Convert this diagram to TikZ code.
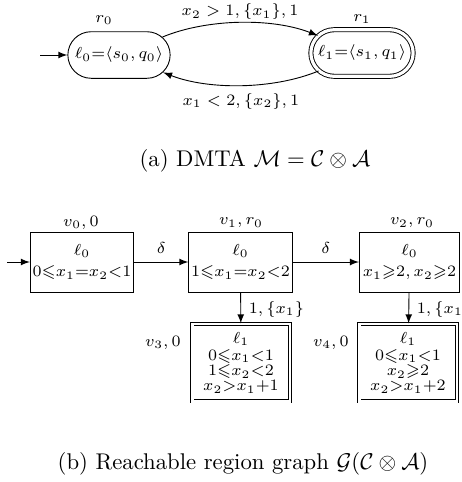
\documentclass[tikz,border=0pt]{standalone}
\usepackage{amsmath,amssymb}
\usepackage{tikz}
\usetikzlibrary{calc,positioning,shapes.misc}

\begin{document}
\begin{tikzpicture}[x=0.44pt, y=-0.44pt, >=latex, font=\fontsize{7}{7.5}\selectfont]

% =========================
% Styles
% =========================
\tikzset{
    locnode/.style={
        draw,
        rounded rectangle,
        minimum width=47pt,
        minimum height=20.5pt,
        inner sep=1pt
    },
    accloc/.style={
        locnode,
        double,
        double distance=1.4pt
    },
    regbox/.style={
        draw,
        rectangle,
        align=center,
        minimum width=44pt,
        minimum height=26.4pt,
        inner sep=1pt
    },
    accbox/.style={
        regbox,
        double,
        double distance=1.2pt,
        minimum width=43pt,
        minimum height=34pt
    },
    lbl/.style={inner sep=0pt},
    capfont/.style={font=\normalsize}
}

\useasboundingbox (0,0) rectangle (462,482);

% =========================
% (a) DMTA
% =========================
\node[locnode] (l0) at (119,55) {$\ell_0{=}\langle s_0,q_0\rangle$};
\node[accloc] (l1) at (362,53) {$\ell_1{=}\langle s_1,q_1\rangle$};

\node[lbl] (r0) at (104,20) {$r_0$};
\node[lbl] (r1) at (362,19) {$r_1$};

\coordinate (init0) at (40,55);
\draw[->] (init0) -- (l0);

\draw[->] (l0) to[bend left=22, looseness=0.8]
    node[above, inner sep=1pt] (g01) {$x_2>1,\{x_1\},1$} (l1);
\draw[->] (l1) to[bend left=22, looseness=0.8]
    node[below] (g10) {$x_1<2,\{x_2\},1$} (l0);

\node[capfont] (capA) at (255,161)
    {(a)\ DMTA $\mathcal{M}=\mathcal{C}\otimes\mathcal{A}$};

% =========================
% (b) Region graph
% =========================
\node[regbox] (v0) at (82,262) {$\ell_0$\\[2pt]$0{\leqslant}x_1{=}x_2{<}1$};
\node[regbox] (v1) at (240.5,262) {$\ell_0$\\[2pt]$1{\leqslant}x_1{=}x_2{<}2$};
\node[regbox] (v2) at (409.5,262) {$\ell_0$\\[2pt]$x_1{\geqslant}2,x_2{\geqslant}2$};

% accepting regions
\node[accbox] (v3) at (241,362.5)
    {$\ell_1$\\[0pt]$0{\leqslant}x_1{<}1$\\[-0.5pt]$1{\leqslant}x_2{<}2$\\[-1pt]$x_2{>}x_1{+}1$};
\node[accbox] (v4) at (408,362.5)
    {$\ell_1$\\[0pt]$0{\leqslant}x_1{<}1$\\[-0.5pt]$x_2{\geqslant}2$\\[-1pt]$x_2{>}x_1{+}2$};

\node[lbl] (v0name) at (81,223) {$v_0,0$};
\node[lbl] (v1name) at (241,223) {$v_1,r_0$};
\node[lbl] (v2name) at (412,223) {$v_2,r_0$};
\node[lbl] (v3name) at (163,343) {$v_3,0$};
\node[lbl] (v4name) at (331,343) {$v_4,0$};

\coordinate (init1) at (7,262);
\draw[->] (init1) -- (v0);

\draw[->] (v0) -- node[above] (d01) {$\delta$} (v1);
\draw[->] (v1) -- node[above] (d12) {$\delta$} (v2);
\draw[->] (v1) -- node[right, pos=0.55] (t13) {$1,\{x_1\}$} (v3);
\draw[->] (v2) -- node[right, pos=0.55] (t24) {$1,\{x_1\}$} (v4);

\node[capfont] (capB) at (243,464)
    {(b)\ Reachable region graph $\mathcal{G}(\mathcal{C}\otimes\mathcal{A})$};

\end{tikzpicture}
\end{document}
